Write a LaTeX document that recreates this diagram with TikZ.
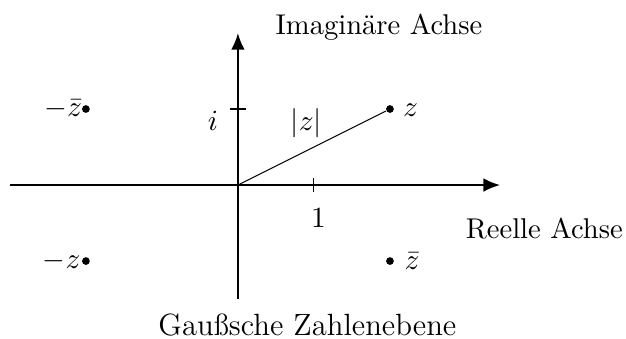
\documentclass[tikz,border=0pt]{standalone}
\usetikzlibrary{arrows.meta}
\begin{document}
\begin{tikzpicture}[x=1cm,y=1cm,
  axis/.style={line width=0.8pt,-{Latex[length=2.2mm,width=1.8mm]}},
  tick/.style={line width=0.4pt},
  pt/.style={circle,fill=black,inner sep=0pt,minimum size=2.9pt},
  lbl/.style={font=\fontsize{10.7}{13}\selectfont,inner sep=0pt}]
\useasboundingbox (-3.13,-2.013) rectangle (5.105,2.434);
% axes
\coordinate (O) at (0,0);
\coordinate (xs) at (-3,0);
\coordinate (xe) at (3.45,0);
\coordinate (ys) at (0,-1.5);
\coordinate (ye) at (0,2);
\draw[axis] (xs) -- (xe);
\draw[axis] (ys) -- (ye);
% ticks
\coordinate (t1a) at (1,-0.09); \coordinate (t1b) at (1,0.09);
\coordinate (tia) at (-0.1,1); \coordinate (tib) at (0.1,1);
\draw[tick] (t1a) -- (t1b);
\draw[tick] (tia) -- (tib);
% points
\node[pt] (z) at (2,1) {};
\node[pt] (zb) at (2,-1) {};
\node[pt] (mzb) at (-2,1) {};
\node[pt] (mz) at (-2,-1) {};
\draw[line width=0.4pt] (O) -- (z);
% labels
\node[lbl] (lz) at (2.27,0.99) {$z$};
\node[lbl] (lzb) at (2.29,-1.0) {$\bar z$};
\node[lbl] (lmzb) at (-2.3,1.0) {$-\bar z$};
\node[lbl] (lmz) at (-2.32,-1.0) {$-z$};
\node[lbl] (labs) at (0.9,0.82) {$|z|$};
\node[lbl] (li) at (-0.33,0.85) {$i$};
\node[lbl] (l1) at (1.06,-0.44) {$1$};
\node[lbl,anchor=base] (lim) at (1.855,1.974) {Imaginäre Achse};
\node[lbl,anchor=base] (lre) at (4.03,-0.70) {Reelle Achse};
\node[lbl,anchor=base,font=\fontsize{11.5}{14}\selectfont] (lg) at (0.914,-1.98) {Gaußsche Zahlenebene};
\end{tikzpicture}
\end{document}
